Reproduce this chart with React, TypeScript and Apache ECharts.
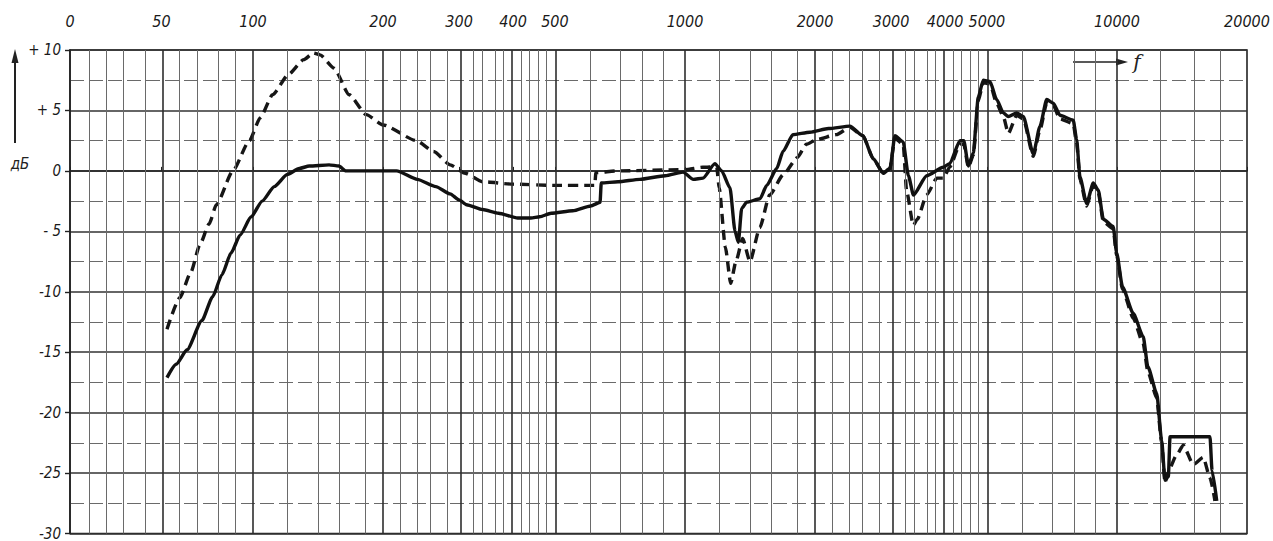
import React, { useEffect, useRef } from "react";
import * as echarts from "echarts";

// ---- axis ticks ----
const xTickFreqs = [0, 50, 100, 200, 300, 400, 500, 1000, 2000, 3000, 4000, 5000, 10000, 20000];
const xTickLabels = ["0", "50", "100", "200", "300", "400", "500", "1000", "2000", "3000", "4000", "5000", "10000", "20000"];
const yTickValues = [10, 5, 0, -5, -10, -15, -20, -25, -30];
const yTickLabels = ["+ 10", "+ 5", "0", "- 5", "-10", "-15", "-20", "-25", "-30"];
const majorGridFreqs = [50, 100, 200, 300, 400, 500, 1000, 2000, 3000, 4000, 5000, 10000];
const minorGridFreqs = [
  10, 20, 30, 40, 60, 70, 80, 90,
  120, 140, 160, 180, 220, 240, 260, 280, 320, 340, 360, 380, 420, 440, 460, 480,
  600, 700, 800, 900, 1200, 1400, 1600, 1800, 2200, 2400, 2600, 2800,
  3200, 3400, 3600, 3800, 4200, 4400, 4600, 4800,
  6000, 7000, 8000, 9000, 12500, 15000, 17500,
];

// ---- solid curve ----
const solidFreq = [
  53, 58, 64, 72, 78, 83, 88, 93, 99, 105, 112, 120, 128, 135, 150, 158, 164, 190, 215, 240,
  265, 286, 300, 312, 340, 370, 410, 440, 461, 490, 550, 605, 636, 640, 700, 786, 900, 990,
  1045, 1101, 1173, 1216, 1271, 1306, 1329, 1353, 1389, 1492, 1546, 1631, 1686, 1778, 1947,
  2150, 2409, 2582, 2729, 2877, 2982, 3062, 3200, 3290, 3380, 3626, 3963, 4100, 4330, 4420,
  4530, 4650, 4775, 4903, 5082, 5266, 5456, 5603, 5859, 6070, 6403, 6635, 6877, 7123, 7380,
  7920, 8067, 8209, 8509, 8813, 9052, 9300, 9800, 9985, 10300, 10910, 11500, 11790, 12360,
  12690, 12920, 13150, 13270, 14500, 16420, 16600, 17020,
];
const solidDb = [
  -17.1, -16.0, -14.8, -12.4, -10.4, -8.6, -6.8, -5.3, -3.8, -2.5, -1.3, -0.3, 0.2, 0.4, 0.5, 0.4, 0.0, 0.0, 0.0, -0.7,
  -1.3, -1.9, -2.4, -2.8, -3.2, -3.5, -3.9, -3.9, -3.8, -3.5, -3.3, -2.9, -2.6, -1.0, -0.9, -0.7, -0.4, -0.1,
  -0.7, -0.6, 0.6, 0.0, -1.4, -5.0, -5.9, -3.1, -2.6, -2.3, -1.2, 0.2, 1.6, 3.0, 3.2,
  3.5, 3.7, 2.9, 1.0, -0.2, 0.2, 2.9, 2.4, -0.4, -2.0, -0.4, 0.3, 0.6, 2.5, 2.5,
  0.4, 1.5, 6.1, 7.5, 7.4, 5.9, 4.8, 4.5, 4.8, 4.5, 1.4, 3.7, 5.9, 5.6, 4.6,
  4.2, 2.6, -0.5, -2.7, -1.0, -1.6, -4.0, -4.6, -6.8, -9.6, -11.8, -13.7, -16.2, -18.4,
  -22.3, -25.6, -25.3, -22.0, -22.0, -22.0, -24.8, -27.3,
];

// ---- dashed curve ----
const dashedFreq = [
  53, 60, 66, 71, 76, 80, 89, 98, 104, 111, 121, 131, 138, 143, 154, 167, 183, 200, 239, 262,
  286, 310, 340, 400, 500, 618, 622, 700, 1000, 1100, 1184, 1200, 1240, 1276, 1312, 1360, 1414,
  1490, 1570, 1690, 1820, 1910, 2020, 2240, 2409, 2582, 2729, 2877, 2982, 3062, 3200, 3260,
  3377, 3450, 3626, 3830, 3963, 4100, 4330, 4420, 4530, 4650, 4775, 4903, 5082, 5266, 5456,
  5603, 5859, 6070, 6403, 6635, 6877, 7123, 7380, 7920, 8067, 8209, 8509, 8813, 9052, 9300,
  9800, 9985, 10300, 10910, 11500, 11790, 12360, 12690, 12920, 13100, 13740, 14240, 15020,
  15840, 16420, 16860,
];
const dashedDb = [
  -13.1, -10.5, -8.4, -6.1, -4.4, -2.8, 0.0, 2.5, 4.4, 6.3, 8.0, 9.2, 9.75, 9.6, 8.5, 6.3, 4.65, 3.8, 2.5, 1.6,
  0.5, -0.2, -0.9, -1.1, -1.2, -1.2, -0.15, 0.0, 0.1, 0.3, 0.35, -1.4, -6.3, -9.3, -7.5, -5.6, -7.5,
  -4.7, -2.0, -0.3, 1.1, 2.2, 2.6, 3.0, 3.6, 2.9, 1.0, -0.2, 0.2, 2.7, 2.2, -1.7,
  -4.5, -4.0, -2.0, -0.6, -0.6, 0.3, 2.2, 2.2, 0.3, 1.3, 5.8, 7.3, 7.2, 5.6, 4.5,
  3.1, 4.6, 4.3, 1.2, 3.4, 5.6, 5.4, 4.3, 3.9, 2.3, -0.7, -2.9, -1.2, -1.8, -4.2,
  -4.8, -7.0, -9.8, -12.2, -14.3, -16.6, -18.8, -22.5, -25.8, -25.0, -23.5, -22.7, -24.3,
  -23.7, -25.4, -27.3,
];

// frequency -> axis coordinate (linear below 100 Hz, logarithmic above, as on the chart paper)
function fx(f: number): number {
  return f >= 100 ? Math.log10(f) : 2 - (100 - f) * 0.004236;
}

const FONT = "'Liberation Sans Narrow', 'DejaVu Sans Condensed', 'Liberation Sans', sans-serif";

export default function App() {
  const ref = useRef<HTMLDivElement>(null);
  useEffect(() => {
    if (!ref.current) return;
    const chart = echarts.init(ref.current, undefined, { renderer: "svg" });
    const xCustom = xTickFreqs.map(fx);
    const gridLines = [
      ...minorGridFreqs.map((f) => ({
        xAxis: fx(f),
        lineStyle: { color: "#6a6a6a", width: 1, type: "solid" as const },
      })),
      ...majorGridFreqs.map((f) => ({
        xAxis: fx(f),
        lineStyle: { color: "#2e2e2e", width: 1.6, type: "solid" as const },
      })),
    ];
    chart.setOption({
      animation: false,
      backgroundColor: "#ffffff",
      grid: {
        left: 70,
        right: 26,
        top: 50,
        bottom: 6,
        show: true,
        borderColor: "#222",
        borderWidth: 1.6,
      },
      xAxis: {
        type: "value",
        position: "top",
        min: fx(0),
        max: fx(20000),
        axisLine: { show: true, lineStyle: { color: "#222", width: 1.6 } },
        axisTick: { show: true, customValues: xCustom, length: 4, inside: false, lineStyle: { color: "#222" } },
        axisLabel: {
          customValues: xCustom,
          margin: 21,
          fontFamily: FONT,
          fontStyle: "italic",
          fontSize: 16,
          color: "#1a1a1a",
          formatter: (v: number) => {
            let best = 0;
            let bd = Infinity;
            xCustom.forEach((c, i) => {
              const d = Math.abs(c - v);
              if (d < bd) {
                bd = d;
                best = i;
              }
            });
            return xTickLabels[best];
          },
        },
        splitLine: { show: false },
      },
      yAxis: {
        type: "value",
        min: -30,
        max: 10,
        interval: 5,
        axisLine: { show: true, lineStyle: { color: "#222", width: 1.6 } },
        axisTick: { show: true, length: 5, lineStyle: { color: "#222", width: 1.4 } },
        axisLabel: {
          margin: 9,
          fontFamily: FONT,
          fontStyle: "italic",
          fontSize: 15,
          color: "#1a1a1a",
          formatter: (v: number) => {
            const i = yTickValues.indexOf(v);
            return i >= 0 ? yTickLabels[i] : String(v);
          },
        },
        splitLine: { show: true, lineStyle: { color: "#333", width: 1.6 } },
        minorTick: { show: false, splitNumber: 2 },
        minorSplitLine: { show: true, lineStyle: { color: "#6a6a6a", width: 1, type: [14, 5] } },
      },
      series: [
        {
          type: "line",
          data: [[fx(0), -30]],
          showSymbol: false,
          symbol: "none",
          lineStyle: { opacity: 0 },
          silent: true,
          z: 1,
          markLine: {
            silent: true,
            symbol: ["none", "none"],
            label: { show: false },
            animation: false,
            data: gridLines,
          },
        },
        {
          type: "line",
          name: "dashed",
          data: dashedFreq.map((f, i) => [fx(f), dashedDb[i]]),
          showSymbol: false,
          symbol: "none",
          smooth: 0.2,
          smoothMonotone: "x",
          z: 4,
          lineStyle: { color: "#161616", width: 3.4, type: [10, 6] },
        },
        {
          type: "line",
          name: "solid",
          data: solidFreq.map((f, i) => [fx(f), solidDb[i]]),
          showSymbol: false,
          symbol: "none",
          smooth: 0.2,
          smoothMonotone: "x",
          z: 5,
          lineStyle: { color: "#111", width: 3.4, join: "round" },
        },
      ],
      graphic: [
        { type: "line", shape: { x1: 15, y1: 143, x2: 15, y2: 60 }, style: { stroke: "#222", lineWidth: 2 } },
        { type: "polygon", shape: { points: [[15, 49], [11.5, 63], [18.5, 63]] }, style: { fill: "#222" } },
        {
          type: "text",
          x: 20,
          y: 164,
          style: {
            text: "дБ",
            fontFamily: FONT,
            fontStyle: "italic",
            fontSize: 15,
            fill: "#222",
            align: "center",
            verticalAlign: "middle",
          },
        },
        { type: "line", shape: { x1: 1073, y1: 62, x2: 1118, y2: 62 }, style: { stroke: "#222", lineWidth: 1.6 } },
        { type: "polygon", shape: { points: [[1128, 62], [1116, 58.5], [1116, 65.5]] }, style: { fill: "#222" } },
        {
          type: "text",
          x: 1137,
          y: 62,
          style: {
            text: "f",
            fontFamily: "'DejaVu Serif', serif",
            fontStyle: "italic",
            fontSize: 20,
            fill: "#222",
            align: "center",
            verticalAlign: "middle",
          },
        },
      ],
    });
    return () => chart.dispose();
  }, []);
  return (
    <div
      ref={ref}
      style={{ position: "fixed", left: 0, top: 0, width: 1273, height: 541, background: "#fff" }}
    />
  );
}
